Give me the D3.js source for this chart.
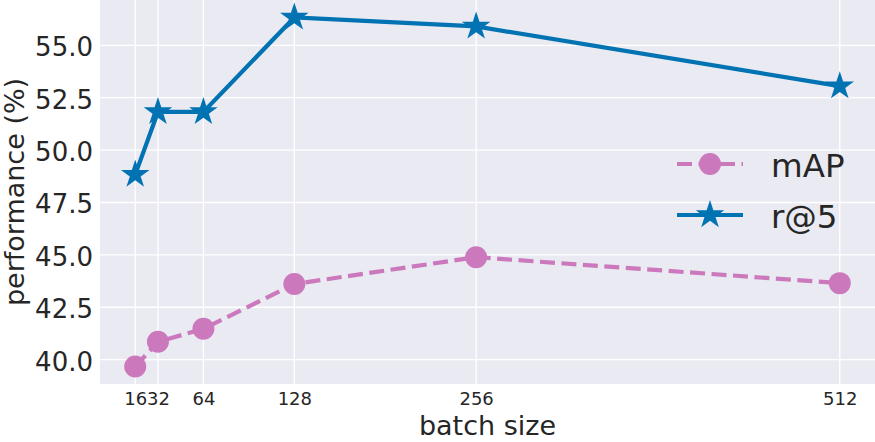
<!DOCTYPE html>
<html>
<head>
<meta charset="utf-8">
<script src="https://cdn.jsdelivr.net/npm/d3@7"></script>
<style>
  body { margin: 0; background: #fff; }
  svg { display: block; font-family: "DejaVu Sans", sans-serif; }
  text { fill: #262626; }
</style>
</head>
<body>
<div id="chart"></div>
<script>
// values
const batchSizes = [16, 32, 64, 128, 256, 512];
const mapVals = [39.67, 40.85, 41.47, 43.61, 44.89, 43.65];
const r5Vals = [48.83, 51.82, 51.82, 56.33, 55.90, 53.05];
const yTicks = [40.0, 42.5, 45.0, 47.5, 50.0, 52.5, 55.0];

const width = 875,
    height = 442,
    margin = ({ top: 0, right: 0, bottom: 58, left: 100 });

const svg = d3.select("#chart")
    .append("svg")
    .attr("width", width)
    .attr("height", height);

// matplotlib-ish 5% padding around the data
const xPad = (512 - 16) * 0.05;
let x = d3.scaleLinear()
    .domain([16 - xPad, 512 + xPad])
    .range([margin.left, width - margin.right]);

const yMin = d3.min(mapVals), yMax = d3.max(r5Vals), yPad = (yMax - yMin) * 0.05;
let y = d3.scaleLinear()
    .domain([yMin - yPad, yMax + yPad])
    .range([height - margin.bottom, margin.top]);

// background
svg.append("rect")
    .attr("x", margin.left)
    .attr("y", margin.top)
    .attr("width", width - margin.left - margin.right)
    .attr("height", height - margin.top - margin.bottom)
    .attr("fill", "#EAEAF2");

// grid
svg.append("g")
    .selectAll("line")
    .data(yTicks)
    .join("line")
    .attr("x1", margin.left)
    .attr("x2", width - margin.right)
    .attr("y1", d => y(d))
    .attr("y2", d => y(d))
    .attr("stroke", "#fff")
    .attr("stroke-width", 1.3);

svg.append("g")
    .selectAll("line")
    .data(batchSizes)
    .join("line")
    .attr("x1", d => x(d))
    .attr("x2", d => x(d))
    .attr("y1", margin.top)
    .attr("y2", height - margin.bottom)
    .attr("stroke", "#fff")
    .attr("stroke-width", 1.3);

// axes - no domain line, no ticks, like seaborn darkgrid
svg.append("g")
    .attr("transform", `translate(0,${height - margin.bottom})`)
    .call(d3.axisBottom(x).tickValues(batchSizes).tickSize(0).tickPadding(8))
    .call(g => g.select(".domain").remove())
    .call(g => g.selectAll("text").attr("font-size", 18).attr("font-family", "DejaVu Sans").attr("fill", "#262626"));

svg.append("g")
    .attr("transform", `translate(${margin.left},0)`)
    .call(d3.axisLeft(y).tickValues(yTicks).tickFormat(d3.format(".1f")).tickSize(0).tickPadding(7))
    .call(g => g.select(".domain").remove())
    .call(g => g.selectAll("text").attr("font-size", 26).attr("dy", "0.4em").attr("font-family", "DejaVu Sans").attr("fill", "#262626"));

svg.append("text")
    .attr("text-anchor", "middle")
    .attr("x", (margin.left + width - margin.right) / 2)
    .attr("y", 435)
    .attr("font-size", 27)
    .text("batch size");

svg.append("text")
    .attr("text-anchor", "middle")
    .attr("transform", `translate(24,${(height - margin.bottom) / 2}) rotate(-90)`)
    .attr("font-size", 27)
    .text("performance (%)");

const blue = "#0173B2", pink = "#CC78BC";

// star path, pointing up
function star(R) {
    const r = R * 0.381966;
    let pts = [];
    for (let i = 0; i < 10; i++) {
        const a = -Math.PI / 2 + i * Math.PI / 5;
        const rr = i % 2 ? r : R;
        pts.push([rr * Math.cos(a), rr * Math.sin(a)]);
    }
    return "M" + pts.map(p => p.join(",")).join("L") + "Z";
}

let line = d3.line()
    .x((d, i) => x(batchSizes[i]))
    .y(d => y(d));

// mAP dashed
svg.append("path")
    .datum(mapVals)
    .attr("d", line)
    .attr("fill", "none")
    .attr("stroke", pink)
    .attr("stroke-width", 4.2)
    .attr("stroke-dasharray", "15,6.5");

svg.append("g")
    .selectAll("circle")
    .data(mapVals)
    .join("circle")
    .attr("cx", (d, i) => x(batchSizes[i]))
    .attr("cy", d => y(d))
    .attr("r", 11)
    .attr("fill", pink);

// r@5 solid
svg.append("path")
    .datum(r5Vals)
    .attr("d", line)
    .attr("fill", "none")
    .attr("stroke", blue)
    .attr("stroke-width", 4.2);

svg.append("g")
    .selectAll("path")
    .data(r5Vals)
    .join("path")
    .attr("d", star(15))
    .attr("transform", (d, i) => `translate(${x(batchSizes[i])},${y(d)})`)
    .attr("fill", blue);

// legend
const legend = svg.append("g");
const leg = [
    { name: "mAP", color: pink, dash: "15,6.5", mark: "circle" },
    { name: "r@5", color: blue, dash: null, mark: "star" }
];
leg.forEach((s, i) => {
    const ly = 164 + i * 51;
    legend.append("line")
        .attr("x1", 677).attr("x2", 743)
        .attr("y1", ly).attr("y2", ly)
        .attr("stroke", s.color)
        .attr("stroke-width", 4.2)
        .attr("stroke-dasharray", s.dash);
    if (s.mark === "circle") {
        legend.append("circle").attr("cx", 710).attr("cy", ly).attr("r", 11).attr("fill", s.color);
    } else {
        legend.append("path").attr("d", star(15)).attr("transform", `translate(710,${ly})`).attr("fill", s.color);
    }
    legend.append("text")
        .attr("x", 771)
        .attr("y", ly + 13)
        .attr("font-size", 32.5)
        .text(s.name);
});
</script>
</body>
</html>
